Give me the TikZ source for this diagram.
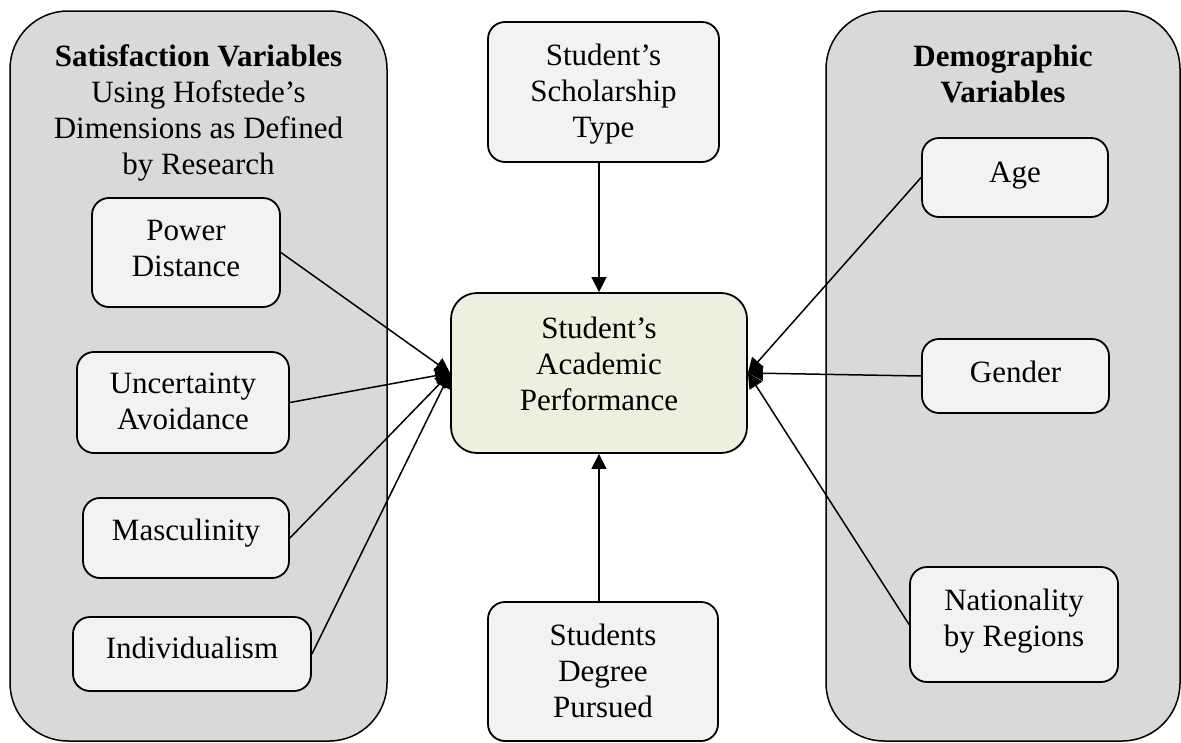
\documentclass[tikz,border=0pt]{standalone}
\usepackage{fontspec}
\setmainfont{Liberation Serif}
\usetikzlibrary{arrows.meta}
\definecolor{panelgray}{HTML}{D9D9D9}
\definecolor{boxgray}{HTML}{F2F2F2}
\definecolor{centergreen}{HTML}{EBF1DE}
\newcommand\boxtxt[4]{\parbox[c][#2pt][t]{#1pt}{\centering\vspace*{#3pt}#4\par}}
\begin{document}
\begin{tikzpicture}[x=1pt,y=-1pt,
  every node/.style={font=\fontsize{31}{36}\selectfont},
  panel/.style={draw, line width=1.5pt, fill=panelgray, rounded corners=58pt, inner sep=0pt},
  varbox/.style={draw, line width=1.8pt, fill=boxgray, rounded corners=17pt, inner sep=0pt},
  mainbox/.style={draw, line width=1.8pt, fill=centergreen, rounded corners=26pt, inner sep=0pt},
  title/.style={inner sep=0pt, align=center, anchor=north},
  link/.style={line width=1.5pt, -{Triangle[length=15pt,width=15pt]}}
]
\useasboundingbox (0,0) rectangle (1181,742);

% panels
\node[panel, minimum width=377pt, minimum height=730pt] (lpanel) at (198.5,376) {};
\node[panel, minimum width=354pt, minimum height=730pt] (rpanel) at (1003,376) {};

% titles
\node[title] (ltitle) at (198.5,44.3) {\textbf{Satisfaction Variables}\\Using Hofstede’s\\Dimensions as Defined\\by Research};
\node[title] (rtitle) at (1003,44.3) {\textbf{Demographic}\\\textbf{Variables}};

% boxes
\node[varbox] (power)  at (186,252.5) {\boxtxt{188}{109}{22}{Power\\Distance}};
\node[varbox] (uncert) at (183,402.5) {\boxtxt{212}{101}{21}{Uncertainty\\Avoidance}};
\node[varbox] (masc)   at (186,538)   {\boxtxt{206}{80}{21}{Masculinity}};
\node[varbox] (indiv)  at (192,654)   {\boxtxt{238}{74}{20}{Individualism}};

\node[varbox] (age)    at (1015,177.5)  {\boxtxt{186}{79}{24}{Age}};
\node[varbox] (gender) at (1015.5,376)  {\boxtxt{187}{74}{22}{Gender}};
\node[varbox] (nation) at (1014,624.5)  {\boxtxt{208}{115}{22}{Nationality\\by Regions}};

\node[varbox] (scholar) at (603.5,92)   {\boxtxt{231}{140}{22}{Student’s\\Scholarship\\Type}};
\node[varbox] (degree)  at (603,671.5)  {\boxtxt{230}{139}{22}{Students\\Degree\\Pursued}};

\node[mainbox] (center) at (599,373) {\boxtxt{296}{160}{24}{Student’s\\Academic\\Performance}};

% connectors
\draw[link] (power.east)  -- (center.west);
\draw[link] (uncert.east) -- (center.west);
\draw[link] (masc.east)   -- (center.west);
\draw[link] (indiv.east)  -- (center.west);
\draw[link] (age.west)    -- (center.east);
\draw[link] (gender.west) -- (center.east);
\draw[link] (nation.west) -- (center.east);
\draw[link] (center.north |- scholar.south) -- (center.north);
\draw[link] (center.south |- degree.north)  -- (center.south);
\end{tikzpicture}
\end{document}
